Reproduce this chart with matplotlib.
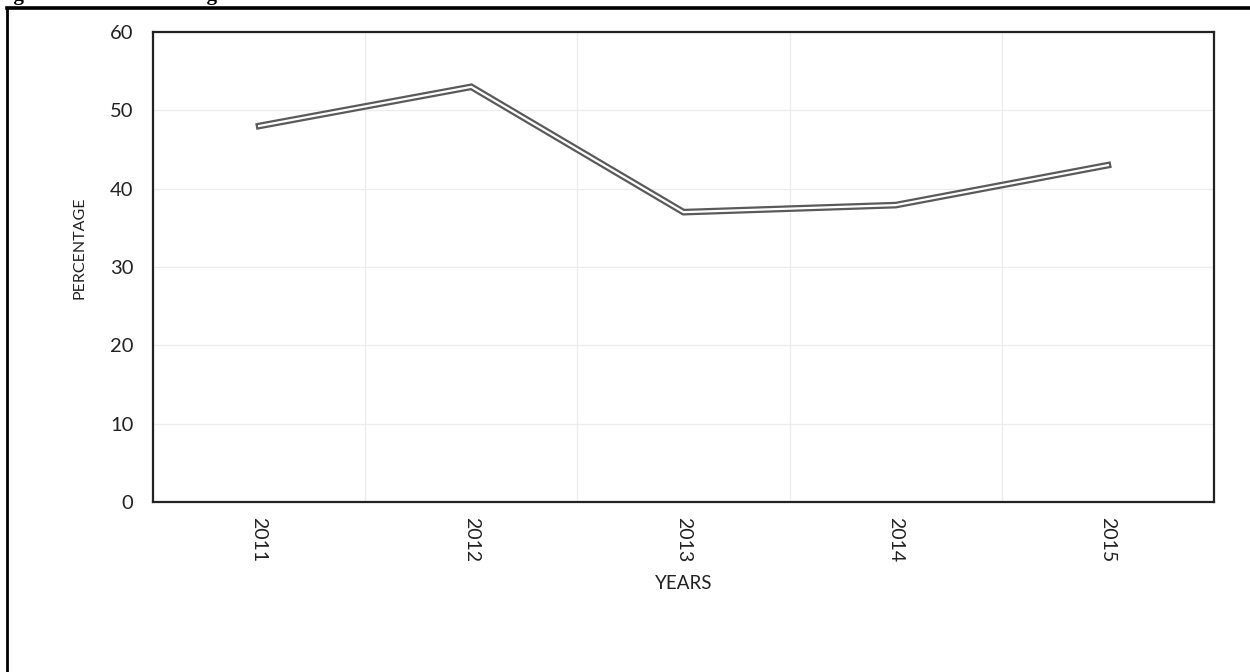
import matplotlib
matplotlib.use("Agg")
import matplotlib.pyplot as plt
from matplotlib.lines import Line2D

# data
years = ["2011", "2012", "2013", "2014", "2015"]
percentage = [48.0, 53.0, 37.0, 37.9, 43.0]
y_ticks = [0, 10, 20, 30, 40, 50, 60]

plt.rcParams['font.family'] = ['Lato', 'DejaVu Sans']

fig = plt.figure(figsize=(12.5, 6.72), dpi=100)
ax = fig.add_axes([0.1224, 0.253, 0.8488, 0.6994])

x = list(range(len(years)))
# double line: thick grey line with a thin white line on top
ax.plot(x, percentage, color="#5a5a5a", linewidth=4.8, solid_joinstyle="miter", zorder=3)
ax.plot(x, percentage, color="white", linewidth=1.6, solid_joinstyle="miter", zorder=4)

ax.set_xlim(-0.5, len(years) - 0.5)
ax.set_ylim(0, 60)
ax.set_yticks(y_ticks)
ax.set_xticks(x)
ax.set_xticklabels(years, rotation=-90, fontsize=14)
ax.tick_params(axis="y", labelsize=14.5, length=0, pad=14, colors="#222222")
ax.tick_params(axis="x", length=0, pad=11, colors="#222222")

# grid: horizontal at y ticks, vertical between categories
for v in y_ticks[1:]:
    ax.axhline(v, color="#ececec", linewidth=0.9, zorder=1)
for b in range(1, len(years)):
    ax.axvline(b - 0.5, color="#ececec", linewidth=0.9, zorder=1)

for s in ax.spines.values():
    s.set_color("#222222")
    s.set_linewidth(1.6)

ax.set_xlabel("YEARS", fontsize=13.5, labelpad=9, color="#222222")
ax.set_ylabel("PERCENTAGE", fontsize=11.5, color="#222222")
ax.yaxis.set_label_coords(-0.063, 0.54)

# outer frame of the page figure (partly cut off)
fig.add_artist(Line2D([7 / 1250, 1], [1 - 8 / 672, 1 - 8 / 672], transform=fig.transFigure,
                      color="black", linewidth=2.6))
fig.add_artist(Line2D([7 / 1250, 7 / 1250], [0, 1 - 8 / 672], transform=fig.transFigure,
                      color="black", linewidth=2.0))

# caption, clipped by the top edge
fig.text(-0.004, 1.008, "Figure 4.1: Case Backlog at the Subordinate Court",
         fontsize=15, fontweight="bold", family="Liberation Serif", va="center", ha="left")

fig.savefig("out.png", dpi=100)
